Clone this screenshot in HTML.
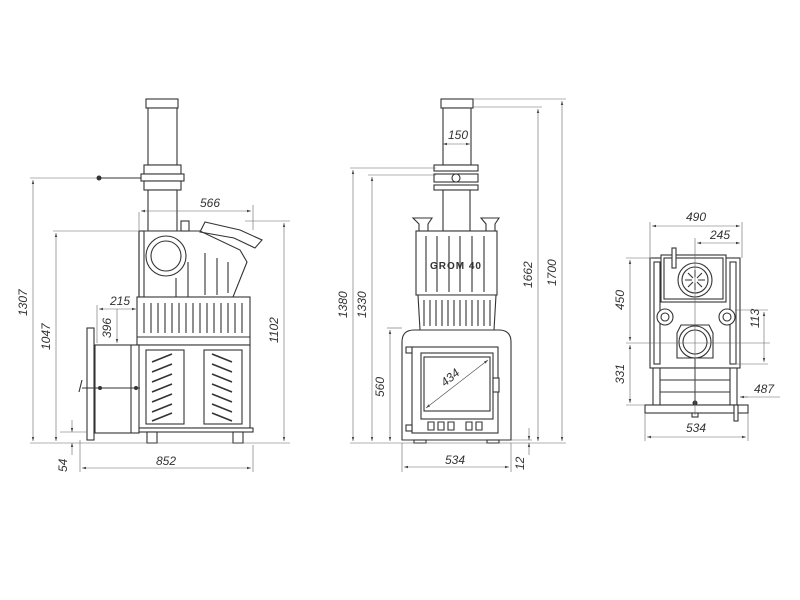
<!DOCTYPE html>
<html><head><meta charset="utf-8"><style>
html,body{margin:0;padding:0;background:#fff}
svg{display:block}
text{font-family:"Liberation Sans",sans-serif;font-style:italic;font-size:12px;fill:#333}
.s{fill:none;stroke:#333;stroke-width:1.1}
.f{fill:#fff;stroke:#333;stroke-width:1.1}
.d{fill:none;stroke:#666;stroke-width:0.6}
.a{fill:#555}
</style></head><body>
<svg width="800" height="600" viewBox="0 0 800 600" xmlns="http://www.w3.org/2000/svg">
<defs>
<marker id="m" viewBox="0 0 10 10" refX="10" refY="5" markerWidth="7" markerHeight="7" orient="auto-start-reverse"><path d="M0,2 L10,5 L0,8z" fill="#444"/></marker>
</defs>

<!-- ============ LEFT VIEW ============ -->
<g>
<rect class="f" x="146" y="99" width="32" height="9"/>
<rect class="f" x="148" y="108" width="29" height="57"/>
<rect class="f" x="144" y="165" width="37" height="9"/>
<rect class="f" x="141" y="174" width="43" height="7"/>
<rect class="f" x="144" y="181" width="37" height="9"/>
<rect class="f" x="148" y="190" width="29" height="41"/>
<line class="s" x1="100" y1="178" x2="141" y2="178"/>
<circle cx="99" cy="178" r="2.5" fill="#333"/>
<!-- upper body -->
<path class="f" d="M139,231 L200,231 L240,250 L247,262 L233,297 L139,297 Z"/>
<rect class="s" x="139" y="231" width="5" height="66"/>
<circle class="f" cx="166" cy="256" r="20"/>
<circle class="s" cx="166" cy="256" r="15"/>
<path class="s" d="M205,222 L240,230 L262,240 L255,248 L234,238 L200,232 Z"/>
<rect class="f" x="181" y="221" width="8" height="10"/>
<g class="s"><line x1="205" y1="253" x2="205" y2="295"/><line x1="217" y1="258" x2="217" y2="295"/><line x1="228" y1="262" x2="228" y2="293"/><line x1="176" y1="278" x2="176" y2="297"/><line x1="188" y1="262" x2="188" y2="297"/></g>
<!-- fin band -->
<rect class="f" x="137" y="297" width="113" height="48"/>
<g class="s">
<path d="M144,303 v30 M151,303 v30 M158,303 v30 M165,303 v30 M172,303 v30 M179,303 v30 M186,303 v30 M193,303 v30 M200,303 v30 M207,303 v30 M214,303 v30 M221,303 v30 M228,303 v30 M235,303 v30 M242,303 v30"/>
<line x1="137" y1="337" x2="250" y2="337"/>
</g>
<!-- firebox -->
<rect class="f" x="138" y="345" width="112" height="83"/>
<rect class="s" x="146" y="350" width="38" height="74"/>
<rect class="s" x="204" y="350" width="38" height="74"/>
<g class="d" style="stroke:#333;stroke-width:1.6">
<path d="M152,362 l20,-8 M152,372 l20,-8 M152,382 l20,-8 M152,392 l20,-8 M152,402 l20,-8 M152,412 l20,-8 M152,421 l20,-8"/>
<path d="M212,354 l20,8 M212,364 l20,8 M212,374 l20,8 M212,384 l20,8 M212,394 l20,8 M212,404 l20,8 M212,413 l20,8"/>
</g>
<rect class="f" x="135" y="428" width="118" height="4"/>
<rect class="f" x="147" y="432" width="10" height="11"/>
<rect class="f" x="233" y="432" width="10" height="11"/>
<!-- front box -->
<rect class="f" x="95" y="345" width="44" height="88"/>
<line class="s" x1="131" y1="345" x2="131" y2="433"/>
<rect class="f" x="87" y="328" width="7" height="112"/>
<line class="s" x1="82" y1="388" x2="140" y2="388"/>
<circle cx="100" cy="388" r="2" fill="#333"/><circle cx="136" cy="388" r="2" fill="#333"/>
<path class="s" d="M82,380 l-3,12"/>
<!-- dims -->
<line class="d" x1="30" y1="178" x2="97" y2="178"/>
<line class="d" x1="30" y1="443" x2="290" y2="443"/>
<line class="d" x1="33" y1="180" x2="33" y2="441" marker-start="url(#m)" marker-end="url(#m)"/>
<text transform="translate(27,316) rotate(-90)">1307</text>
<line class="d" x1="53" y1="231" x2="139" y2="231"/>
<line class="d" x1="56" y1="233" x2="56" y2="441" marker-start="url(#m)" marker-end="url(#m)"/>
<text transform="translate(50,350) rotate(-90)">1047</text>
<line class="d" x1="139" y1="212" x2="139" y2="230"/><line class="d" x1="253" y1="205" x2="253" y2="230"/>
<line class="d" x1="141" y1="211" x2="251" y2="211" marker-start="url(#m)" marker-end="url(#m)"/>
<text x="200" y="207">566</text>
<line class="d" x1="245" y1="221" x2="290" y2="221"/>
<line class="d" x1="284" y1="223" x2="284" y2="441" marker-start="url(#m)" marker-end="url(#m)"/>
<text transform="translate(278,343) rotate(-90)">1102</text>
<line class="d" x1="97" y1="305" x2="97" y2="343"/>
<line class="d" x1="99" y1="309" x2="136" y2="309" marker-start="url(#m)" marker-end="url(#m)"/>
<text x="110" y="305">215</text>
<line class="d" x1="117" y1="309" x2="117" y2="343" marker-end="url(#m)"/>
<text transform="translate(111,338) rotate(-90)">396</text>
<line class="d" x1="60" y1="432" x2="87" y2="432"/>
<line class="d" x1="72" y1="420" x2="72" y2="432" marker-end="url(#m)"/>
<line class="d" x1="72" y1="455" x2="72" y2="443" marker-end="url(#m)"/>
<text transform="translate(67,472) rotate(-90)">54</text>
<line class="d" x1="80" y1="440" x2="80" y2="472"/><line class="d" x1="253" y1="445" x2="253" y2="472"/>
<line class="d" x1="82" y1="468" x2="251" y2="468" marker-start="url(#m)" marker-end="url(#m)"/>
<text x="156" y="465">852</text>
</g>

<!-- ============ MIDDLE VIEW ============ -->
<g>
<rect class="f" x="441" y="99" width="32" height="9"/>
<rect class="f" x="443" y="108" width="28" height="57"/>
<rect class="f" x="434" y="165" width="44" height="6"/>
<rect class="f" x="434" y="174" width="44" height="8"/>
<circle class="f" cx="456" cy="178" r="4"/>
<rect class="f" x="434" y="185" width="44" height="5"/>
<rect class="f" x="443" y="190" width="27" height="41"/>
<path class="f" d="M413,218 L432,218 L428,224 L428,231 L419,231 L419,224 Z"/>
<path class="f" d="M481,218 L499,218 L495,224 L495,231 L486,231 L486,224 Z"/>
<rect class="f" x="416" y="231" width="81" height="64"/>
<g class="s"><path d="M426,236 v56 M437,236 v56 M449,236 v56 M460,236 v56 M472,236 v56 M484,236 v56"/></g>
<text x="456" y="269" text-anchor="middle" style="font-style:normal;font-weight:bold;font-size:10px;letter-spacing:1px">GROM 40</text>
<path class="f" d="M418,295 L496,295 L494,330 L420,330 Z"/>
<g class="s"><path d="M424,300 v26 M430,300 v26 M436,300 v26 M442,300 v26 M448,300 v26 M454,300 v26 M460,300 v26 M466,300 v26 M472,300 v26 M478,300 v26 M484,300 v26 M490,300 v26"/></g>
<path class="f" d="M402,440 L402,342 Q402,330 414,330 L499,330 Q511,330 511,342 L511,440 Z"/>
<rect class="s" x="412" y="347" width="86" height="86"/>
<rect class="s" x="421" y="353" width="72" height="66"/>
<rect class="s" x="424" y="357" width="66" height="54"/>
<g class="s"><path d="M428,422 h6 v8 h-6z M438,422 h6 v8 h-6z M448,422 h6 v8 h-6z M466,422 h6 v8 h-6z M476,422 h6 v8 h-6z"/></g>
<rect class="f" x="493" y="378" width="6" height="14"/>
<rect class="f" x="406" y="347" width="6" height="6"/><rect class="f" x="406" y="425" width="6" height="6"/>
<line class="d" x1="426" y1="408" x2="488" y2="360" marker-start="url(#m)" marker-end="url(#m)" style="stroke:#444"/>
<text transform="translate(445,387) rotate(-40)">434</text>
<rect class="f" x="414" y="440" width="12" height="3"/><rect class="f" x="487" y="440" width="12" height="3"/>
<!-- dims -->
<line class="d" x1="443" y1="144" x2="470" y2="144" marker-start="url(#m)" marker-end="url(#m)"/>
<text x="448" y="139">150</text>
<line class="d" x1="473" y1="99" x2="566" y2="99"/><line class="d" x1="473" y1="107" x2="542" y2="107"/>
<line class="d" x1="350" y1="168" x2="436" y2="168"/><line class="d" x1="368" y1="175" x2="436" y2="175"/>
<line class="d" x1="350" y1="443" x2="566" y2="443"/>
<line class="d" x1="353" y1="170" x2="353" y2="441" marker-start="url(#m)" marker-end="url(#m)"/>
<text transform="translate(347,318) rotate(-90)">1380</text>
<line class="d" x1="372" y1="177" x2="372" y2="441" marker-start="url(#m)" marker-end="url(#m)"/>
<text transform="translate(366,318) rotate(-90)">1330</text>
<line class="d" x1="387" y1="328" x2="402" y2="328"/>
<line class="d" x1="390" y1="330" x2="390" y2="441" marker-start="url(#m)" marker-end="url(#m)"/>
<text transform="translate(384,397) rotate(-90)">560</text>
<line class="d" x1="538" y1="109" x2="538" y2="441" marker-start="url(#m)" marker-end="url(#m)"/>
<text transform="translate(532,288) rotate(-90)">1662</text>
<line class="d" x1="562" y1="101" x2="562" y2="441" marker-start="url(#m)" marker-end="url(#m)"/>
<text transform="translate(556,286) rotate(-90)">1700</text>
<line class="d" x1="402" y1="443" x2="402" y2="472"/><line class="d" x1="511" y1="443" x2="511" y2="472"/>
<line class="d" x1="404" y1="467" x2="509" y2="467" marker-start="url(#m)" marker-end="url(#m)"/>
<text x="445" y="464">534</text>
<line class="d" x1="511" y1="440" x2="532" y2="440"/>
<line class="d" x1="529" y1="428" x2="529" y2="440" marker-end="url(#m)"/>
<line class="d" x1="529" y1="455" x2="529" y2="443" marker-end="url(#m)"/>
<text transform="translate(524,470) rotate(-90)">12</text>
</g>

<!-- ============ RIGHT VIEW ============ -->
<g>
<rect class="f" x="650" y="258" width="90" height="110"/>
<rect class="s" x="654" y="262" width="6" height="102"/>
<rect class="s" x="730" y="262" width="6" height="102"/>
<rect class="f" x="661" y="255" width="65" height="47"/>
<rect class="s" x="664" y="258" width="59" height="41"/>
<circle class="f" cx="695" cy="280" r="17"/>
<circle class="s" cx="695" cy="280" r="13"/>
<g class="s"><path d="M695,270 v7 M695,283 v7 M685,280 h7 M698,280 h7 M688,273 l5,5 M697,282 l5,5 M702,273 l-5,5 M693,282 l-5,5"/></g>
<rect class="f" x="672" y="248" width="4" height="20"/>
<circle class="f" cx="665" cy="317" r="8"/><circle class="s" cx="665" cy="317" r="4"/>
<circle class="f" cx="727" cy="317" r="8"/><circle class="s" cx="727" cy="317" r="4"/>
<path class="f" d="M681,325 L709,325 L713,333 L713,358 L677,358 L677,333 Z"/>
<circle class="f" cx="695" cy="342" r="16"/>
<circle class="s" cx="695" cy="342" r="12"/>
<rect class="f" x="653" y="368" width="84" height="37"/>
<g class="s"><path d="M660,380 h70 M660,392 h70 M660,368 v37 M730,368 v37"/></g>
<rect class="f" x="645" y="405" width="103" height="8"/>
<rect class="f" x="692" y="413" width="6" height="4"/>
<rect class="f" x="734" y="405" width="4" height="16"/>
<line class="s" x1="695" y1="358" x2="695" y2="403"/>
<circle cx="695" cy="403" r="2.5" fill="#333"/>
<line class="d" x1="695" y1="238" x2="695" y2="415"/>
<!-- dims -->
<line class="d" x1="650" y1="222" x2="650" y2="258"/><line class="d" x1="742" y1="222" x2="742" y2="258"/>
<line class="d" x1="652" y1="226" x2="740" y2="226" marker-start="url(#m)" marker-end="url(#m)"/>
<text x="686" y="221">490</text>
<line class="d" x1="697" y1="243" x2="740" y2="243" marker-start="url(#m)" marker-end="url(#m)"/>
<text x="710" y="239">245</text>
<line class="d" x1="626" y1="258" x2="652" y2="258"/>
<line class="d" x1="626" y1="343" x2="770" y2="343"/>
<line class="d" x1="626" y1="405" x2="645" y2="405"/>
<line class="d" x1="630" y1="260" x2="630" y2="341" marker-start="url(#m)" marker-end="url(#m)"/>
<text transform="translate(624,310) rotate(-90)">450</text>
<line class="d" x1="630" y1="345" x2="630" y2="403" marker-start="url(#m)" marker-end="url(#m)"/>
<text transform="translate(624,384) rotate(-90)">331</text>
<line class="d" x1="735" y1="310" x2="768" y2="310"/><line class="d" x1="735" y1="364" x2="768" y2="364"/>
<line class="d" x1="764" y1="312" x2="764" y2="362" marker-start="url(#m)" marker-end="url(#m)"/>
<text transform="translate(759,328) rotate(-90)">113</text>
<line class="d" x1="740" y1="397" x2="780" y2="397"/>
<line class="d" x1="748" y1="397" x2="740" y2="397" marker-end="url(#m)"/>
<text x="754" y="393">487</text>
<line class="d" x1="645" y1="413" x2="645" y2="441"/><line class="d" x1="748" y1="413" x2="748" y2="441"/>
<line class="d" x1="647" y1="437" x2="746" y2="437" marker-start="url(#m)" marker-end="url(#m)"/>
<text x="686" y="432">534</text>
</g>
</svg>
</body></html>
